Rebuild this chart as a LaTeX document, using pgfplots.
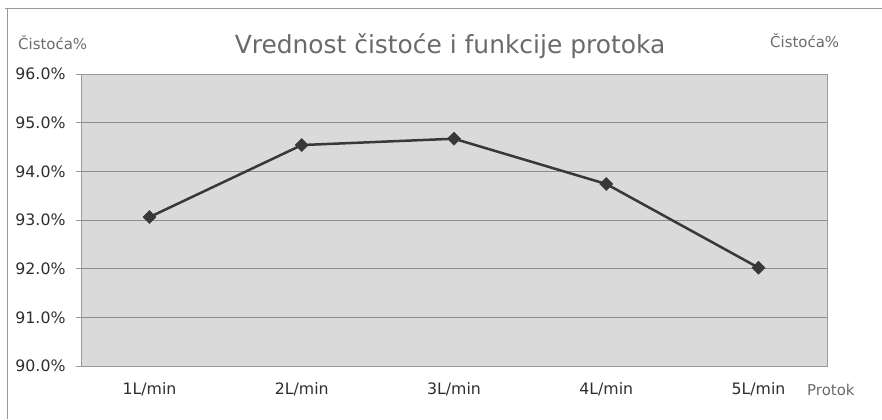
\documentclass[border=0pt]{standalone}
\usepackage{pgfplots}
\pgfplotsset{compat=1.18}
\usepackage{fontspec}
\setmainfont{DejaVu Sans}
\definecolor{bgc}{HTML}{DADADA}
\definecolor{gridc}{HTML}{8C8C8C}
\definecolor{axc}{HTML}{9A9A9A}
\definecolor{linec}{HTML}{383838}
\definecolor{ttc}{HTML}{6A6A6A}
\definecolor{tlc}{HTML}{2E2E2E}
\begin{document}
\begin{tikzpicture}[x=1bp,y=1bp]
\useasboundingbox (0,0) rectangle (882,419);
\draw[axc, line width=1bp] (5,410) -- (882,410);
\draw[axc, line width=1bp] (7,410) -- (7,0);
\node[anchor=base, text=ttc, font=\fontsize{25}{27}\selectfont] at (450,366) {Vrednost čistoće i funkcije protoka};
\node[anchor=base west, inner sep=0, text=ttc, font=\fontsize{15}{17}\selectfont] at (18,370) {Čistoća\%};
\node[anchor=base west, inner sep=0, text=ttc, font=\fontsize{15}{17}\selectfont] at (770,372) {Čistoća\%};
\node[anchor=base west, inner sep=0, text=ttc, font=\fontsize{15}{17}\selectfont] at (807,24) {Protok};
\begin{axis}[
  at={(81bp,53bp)}, anchor=south west,
  width=746bp, height=292bp, scale only axis,
  xmin=-0.45, xmax=4.45, ymin=90, ymax=96,
  axis background/.style={fill=bgc},
  axis line style={axc, line width=1bp},
  ytick={90,91,...,96},
  xtick={0,1,2,3,4},
  xticklabels={1L/min,2L/min,3L/min,4L/min,5L/min},
  major x tick style={draw=none},
  extra x ticks={0.5,1.5,2.5,3.5,4.45},
  extra x tick labels={},
  extra x tick style={grid=none, major tick length=5bp, tick style={axc, line width=1bp}},
  tick align=outside,
  major tick length=5bp,
  tick style={axc, line width=1bp},
  xtick pos=bottom, ytick pos=left,
  ymajorgrids,
  major grid style={gridc, line width=1bp},
  /pgf/number format/assume math mode=true,
  yticklabel={\pgfmathprintnumber[fixed,fixed zerofill,precision=1]{\tick}\%},
  ticklabel style={text=tlc, font=\fontsize{15.8}{17}\selectfont},
  yticklabel style={xshift=-7bp},
  xticklabel style={yshift=-8bp},
]
\addplot[color=linec, line width=2.5bp, mark=square*, mark size=4.6bp, mark options={rotate=45, fill=linec, line width=0.5bp}]
coordinates {(0,93.06) (1,94.54) (2,94.67) (3,93.74) (4,92.02)};
\end{axis}
\end{tikzpicture}
\end{document}
